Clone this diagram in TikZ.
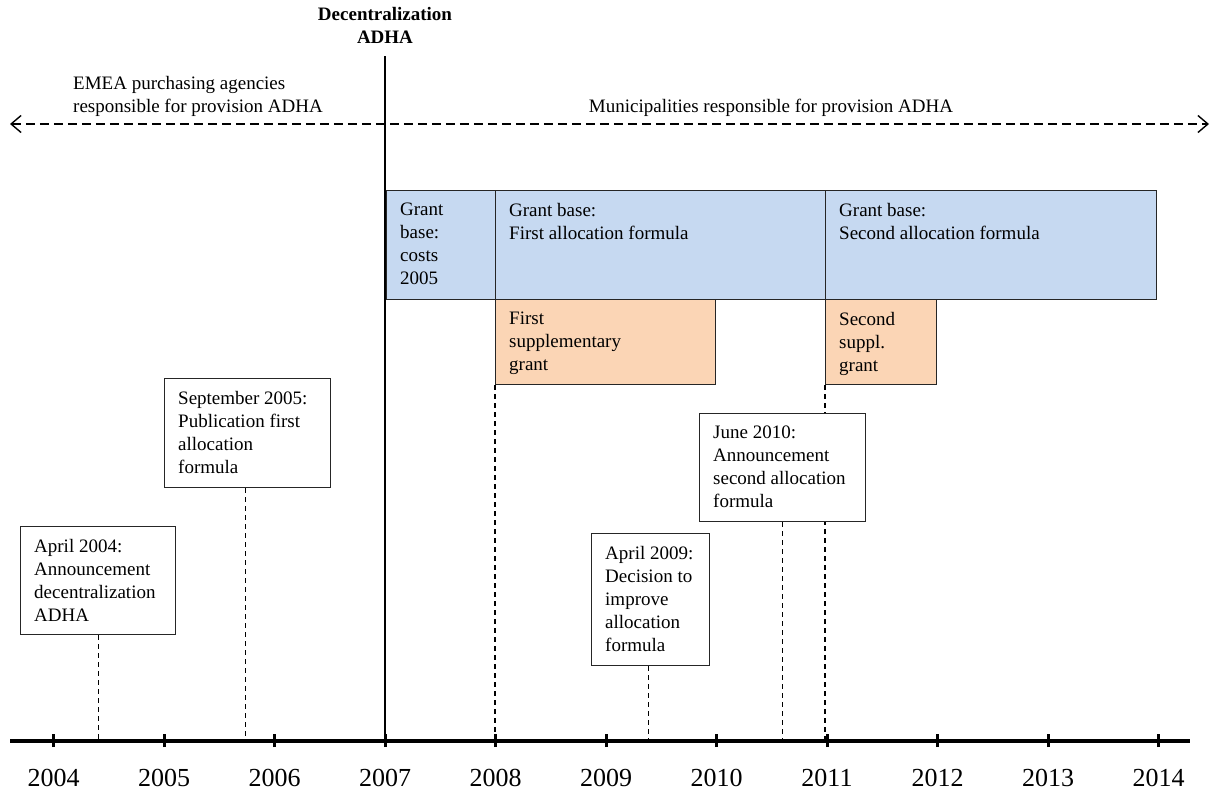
\documentclass[tikz,border=0pt]{standalone}
\usepackage{fontspec}
\setmainfont{Liberation Serif}
\usetikzlibrary{arrows.meta}
\definecolor{blueF}{HTML}{C6D9F1}
\definecolor{orangeF}{HTML}{FBD5B5}
\pgfdeclarelayer{bg}
\pgfsetlayers{bg,main}
\newcommand\tlbox[7]{%
  \node[#6, minimum width=#4pt, minimum height=#5pt] (#1) at (#2,#3) {};
  \node[txt] (#1t) at ([shift={(14pt,-13pt)}]#1.north west) {#7};
}
\tikzset{
  every node/.style={font=\fontsize{19}{23}\selectfont},
  box/.style={draw=black!85, line width=1.4pt, fill=white, anchor=north west, inner sep=0pt},
  bluebox/.style={box, fill=blueF},
  orangebox/.style={box, fill=orangeF},
  txt/.style={anchor=north west, inner sep=0pt, align=left, execute at begin node={\rule{0pt}{14pt}}},
  dline/.style={draw=black, line width=1.3pt, dash pattern=on 5pt off 4pt},
  darrow/.style={draw=black, line width=1.4pt, dash pattern=on 9pt off 5pt,
    {Straight Barb[length=10pt,width=17pt]}-{Straight Barb[length=10pt,width=17pt]}},
  axisline/.style={draw=black, line width=3.5pt},
  tickline/.style={draw=black, line width=3pt},
  yearlbl/.style={font=\fontsize{26}{30}\selectfont, anchor=base, inner sep=0pt},
}
\begin{document}
\begin{tikzpicture}[x=1pt, y=-1pt]
\useasboundingbox (0,0) rectangle (1211,796);

% axis
\coordinate (axL) at (10,741);
\coordinate (axR) at (1190,741);
\draw[axisline] (axL) -- (axR);
\foreach \yr [count=\i from 0] in {2004,2005,2006,2007,2008,2009,2010,2011,2012,2013,2014} {
  \pgfmathsetmacro\xx{53.5+110.5*\i}
  \coordinate (t\yr) at (\xx,741);
  \draw[tickline] ([yshift=-6pt]t\yr) -- ([yshift=7pt]t\yr);
  \node[yearlbl] (y\yr) at (\xx,786) {\yr};
}

% decentralization line
\node[anchor=north, inner sep=0pt, align=center, font=\fontsize{19}{23}\selectfont\bfseries,
  execute at begin node={\rule{0pt}{14pt}}] (dec) at (385,7) {Decentralization\\ADHA};
\coordinate (vtop) at (385,56);
\draw[draw=black, line width=1.4pt] (vtop) -- (vtop |- axL);

% dashed arrow
\coordinate (arrL) at (10,124);
\coordinate (arrR) at (1209,124);
\draw[darrow] (arrL) -- (arrR);
\node[txt] (emea) at (73,76) {EMEA purchasing agencies\\responsible for provision ADHA};
\node[anchor=base, inner sep=0pt] (muni) at (771,112) {Municipalities responsible for provision ADHA};

% grant boxes
\tlbox{gb1}{386}{190}{109}{109}{bluebox}{Grant\\base:\\costs\\2005}
\tlbox{gb2}{495}{190}{330}{109}{bluebox}{Grant base:\\First allocation formula}
\tlbox{gb3}{825}{190}{331}{109}{bluebox}{Grant base:\\Second allocation formula}
\tlbox{sg1}{495}{299}{220}{85}{orangebox}{First\\supplementary\\grant}
\tlbox{sg2}{825}{299}{111}{85}{orangebox}{Second\\suppl.\\grant}

% event boxes
\tlbox{ev04}{20}{526}{155}{108}{box}{April 2004:\\Announcement\\decentralization\\ADHA}
\tlbox{ev05}{164}{378}{166}{109}{box}{September 2005:\\Publication first\\allocation\\formula}
\tlbox{ev09}{591}{533}{118}{132}{box}{April 2009:\\Decision to\\improve\\allocation\\formula}
\tlbox{ev10}{699}{413}{166}{108}{box}{June 2010:\\Announcement\\second allocation\\formula}

\begin{pgfonlayer}{bg}
  \draw[dline] (ev04.south) -- (ev04.south |- axL);
  \draw[dline] ([xshift=-2pt]ev05.south) -- ([xshift=-2pt]ev05.south |- axL);
  \draw[dline] ([xshift=-2pt]ev09.south) -- ([xshift=-2pt]ev09.south |- axL);
  \draw[dline] (ev10.south) -- (ev10.south |- axL);
  \draw[dline] (sg1.south west) -- (sg1.south west |- axL);
  \draw[dline] (sg2.south west) -- (sg2.south west |- axL);
\end{pgfonlayer}
\end{tikzpicture}
\end{document}
